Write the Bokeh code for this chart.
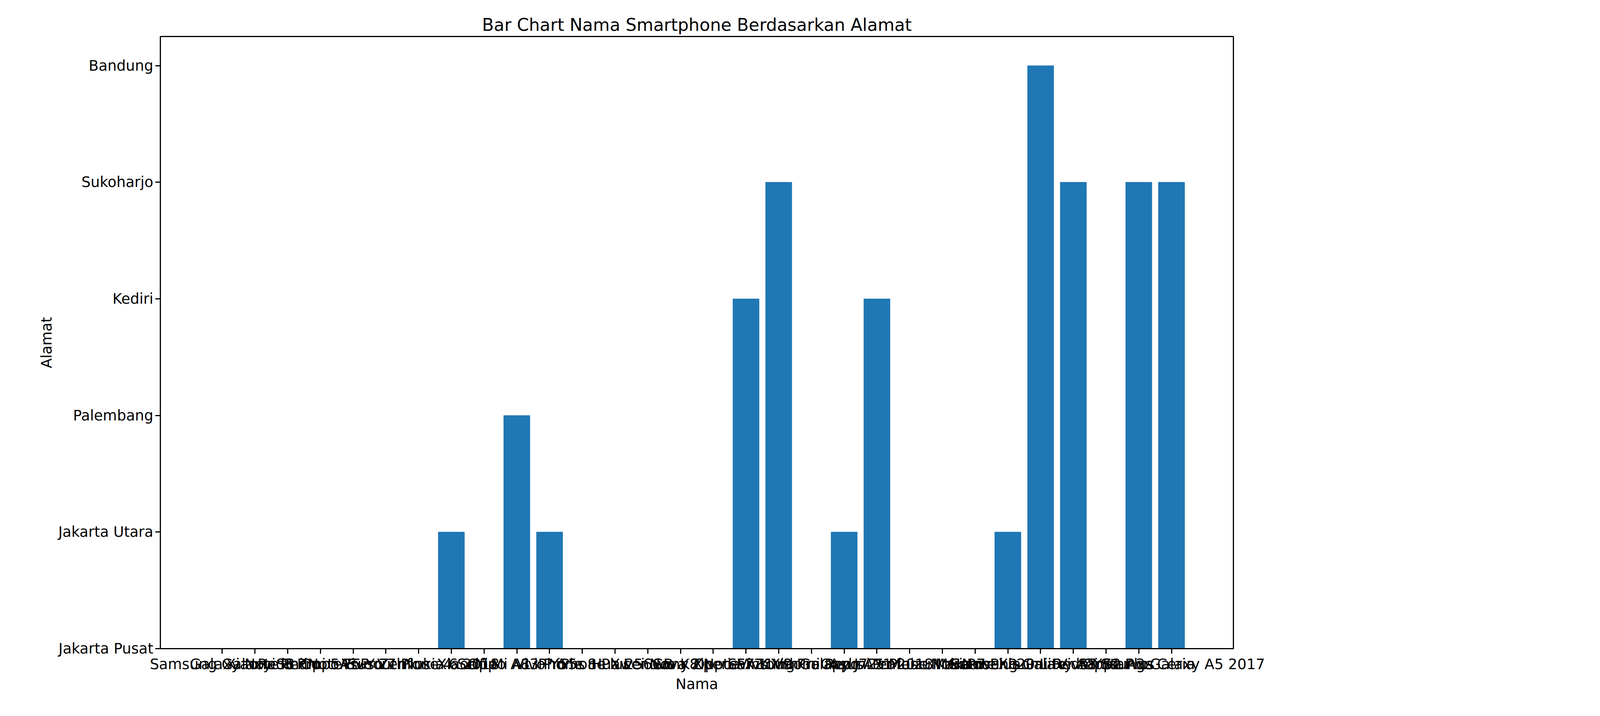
from bokeh.plotting import figure
from bokeh.models import FixedTicker, Range1d
from bokeh.embed import file_html
from bokeh.resources import INLINE

nama = [
    "Samsung Galaxy S8", "Galaxy Note 8 Pro", "Xiaomi Redmi 5A", "Redmi Note 5 Pro",
    "Oppo F5 Youth", "Vivo V7 Plus", "Asus Zenfone 4 Selfie", "Nokia 6 2018", "Xiaomi Mi A1",
    "Oppo A83 Pro", "Vivo Y55s", "iPhone 8 Plus", "iPhone X 256GB", "Huawei Nova 2i",
    "Lenovo K8 Note", "Sony Xperia XZ1", "Oppo F7 Youth", "Vivo V9 Pro",
    "Samsung Galaxy J7 Pro", "Xiaomi Redmi 5 Plus", "Oppo A71 2018", "Asus Zenfone Max Pro",
    "Meizu M6 Note", "Nokia 7 Plus", "Huawei P20 Lite", "Samsung Galaxy A8 Star",
    "Xiaomi Redmi S2 Pro", "Vivo Y71 Plus", "Oppo A3s Ceria", "Samsung Galaxy A5 2017",
]
kota = ["Jakarta Pusat", "Jakarta Utara", "Palembang", "Kediri", "Sukoharjo", "Bandung"]
alamat_idx = [0, 0, 0, 0, 0, 0, 0, 1, 0, 2, 1, 0, 0, 0, 0, 0, 3, 4, 0, 1,
              3, 0, 0, 0, 1, 5, 4, 0, 4, 4]

xs = list(range(len(nama)))

p = figure(width=4125, height=1815, output_backend="svg", toolbar_location=None,
           x_range=Range1d(-1.89, 30.89), y_range=Range1d(0, 5.25),
           min_border_left=410, min_border_right=968, min_border_top=93,
           min_border_bottom=154, title="Bar Chart Nama Smartphone Berdasarkan Alamat")

p.vbar(x=xs, top=alamat_idx, bottom=0, width=0.8, color="#1f77b4")

p.title.align = "center"
p.title.text_font = "DejaVu Sans"
p.title.text_font_size = "44px"
p.title.text_font_style = "normal"
p.title.text_color = "black"
p.title.offset = 0

p.xaxis.ticker = FixedTicker(ticks=xs)
p.xaxis.major_label_overrides = {i: n for i, n in enumerate(nama)}
p.yaxis.ticker = FixedTicker(ticks=list(range(len(kota))))
p.yaxis.major_label_overrides = {i: k for i, k in enumerate(kota)}
p.xaxis.axis_label = "Nama"
p.yaxis.axis_label = "Alamat"

for ax in (p.xaxis, p.yaxis):
    ax.major_label_text_font = "DejaVu Sans"
    ax.major_label_text_font_size = "37px"
    ax.major_label_text_color = "black"
    ax.axis_label_text_font = "DejaVu Sans"
    ax.axis_label_text_font_size = "37px"
    ax.axis_label_text_font_style = "normal"
    ax.axis_label_text_color = "black"
    ax.major_tick_out = 13
    ax.major_tick_in = 0
    ax.minor_tick_line_color = None
    ax.major_tick_line_width = 3
    ax.axis_line_width = 3

p.xgrid.visible = False
p.ygrid.visible = False
p.outline_line_color = "black"
p.outline_line_width = 3
p.background_fill_color = "white"

open("out.html", "w").write(file_html(p, INLINE))
